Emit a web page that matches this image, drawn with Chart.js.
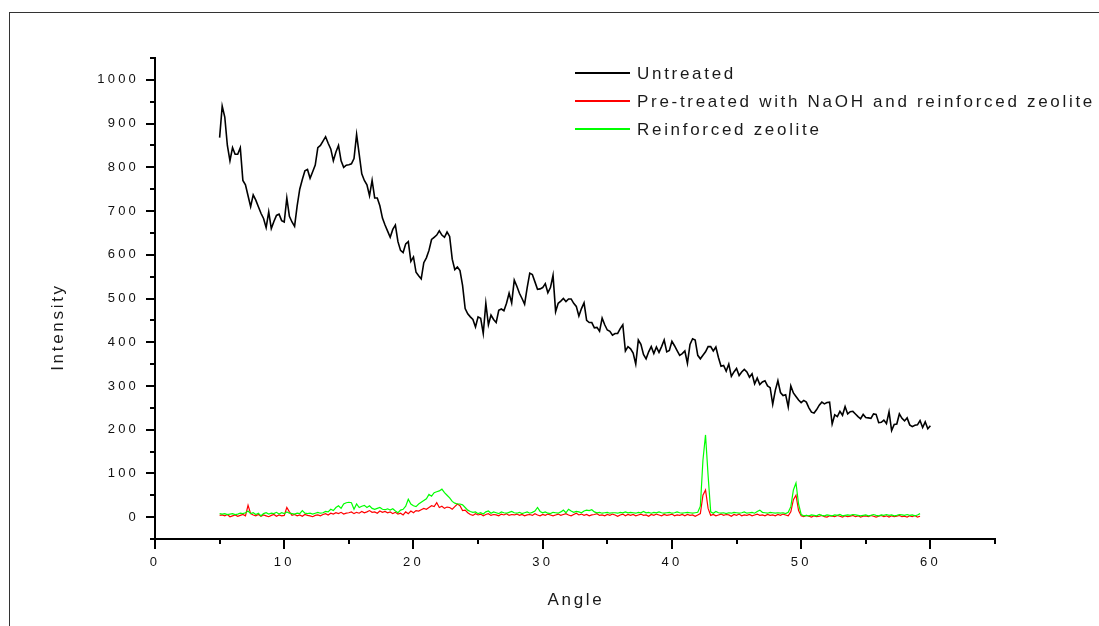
<!DOCTYPE html>
<html>
<head>
<meta charset="utf-8">
<title>Intensity vs Angle</title>
<script src="https://cdn.jsdelivr.net/npm/chart.js@4.4.1/dist/chart.umd.min.js"></script>
<style>
  html, body { margin: 0; padding: 0; background: #fff; }
  canvas { display: block; }
</style>
</head>
<body>
<canvas id="xrdChart" width="1099" height="626"></canvas>
<script>
// scan grid: 5.0, 5.2, 5.4 ... (one row below = one degree)
const ANGLE_START = 5;
const ANGLE_STEP = 0.2;

const untreated = [
  868, 940, 915, 850, 815,   // 5
  845, 830, 830, 845, 770,   // 6
  760, 735, 710, 737, 725,   // 7
  710, 695, 683, 662, 698,   // 8
  660, 676, 690, 693, 678,   // 9
  675, 730, 688, 675, 665,   // 10
  712, 750, 772, 792, 795,   // 11
  775, 790, 805, 845, 850,   // 12
  860, 870, 855, 842, 815,   // 13
  835, 850, 815, 800, 805,   // 14
  806, 808, 820, 875, 830,   // 15
  785, 770, 760, 735, 770,   // 16
  730, 730, 712, 684, 668,   // 17
  654, 640, 658, 668, 630,   // 18
  610, 605, 625, 630, 585,   // 19
  595, 560, 552, 545, 582,   // 20
  593, 610, 635, 640, 645,   // 21
  655, 645, 640, 652, 642,   // 22
  590, 566, 572, 564, 530,   // 23
  477, 465, 458, 452, 435,   // 24
  458, 455, 420, 489, 440,   // 25
  462, 452, 445, 473, 476,   // 26
  472, 489, 512, 490, 542,   // 27
  528, 512, 500, 487, 525,   // 28
  558, 555, 538, 521, 522,   // 29
  525, 534, 513, 525, 553,   // 30
  470, 489, 494, 500, 493,   // 31
  499, 499, 489, 482, 460,   // 32
  477, 490, 450, 445, 445,   // 33
  433, 434, 425, 455, 440,   // 34
  428, 425, 416, 420, 420,   // 35
  431, 440, 380, 390, 385,   // 36
  375, 350, 405, 395, 372,   // 37
  362, 378, 390, 374, 389,   // 38
  377, 390, 405, 378, 381,   // 39
  402, 392, 381, 370, 374,   // 40
  380, 352, 395, 408, 405,   // 41
  370, 362, 370, 378, 390,   // 42
  390, 380, 389, 365, 345,   // 43
  347, 334, 350, 322, 332,   // 44
  340, 324, 332, 338, 332,   // 45
  320, 328, 305, 318, 303,   // 46
  309, 312, 300, 296, 258,   // 47
  290, 312, 285, 278, 280,   // 48
  252, 300, 284, 276, 268,   // 49
  262, 267, 263, 250, 240,   // 50
  238, 246, 256, 263, 259,   // 51
  262, 263, 213, 234, 230,   // 52
  242, 233, 253, 236, 241,   // 53
  242, 236, 230, 225, 235,   // 54
  228, 227, 226, 236, 235,   // 55
  216, 217, 222, 214, 241,   // 56
  198, 212, 213, 236, 226,   // 57
  220, 227, 211, 207, 210,   // 58
  211, 221, 205, 218, 202,   // 59
  209                        // 60
];

const naohZeolite = [
  4, 5, 3, 6, 1,      // 5
  3, 5, 2, 4, 6,      // 6
  3, 27, 8, 5, 3,     // 7
  6, 2, 5, 3, 1,      // 8
  4, 6, 2, 5, 3,      // 9
  4, 22, 12, 4, 6,    // 10
  3, 5, 2, 6, 4,      // 11
  3, 1, 4, 5, 3,      // 12
  6, 8, 5, 9, 7,      // 13
  10, 8, 11, 7, 9,    // 14
  10, 12, 8, 11, 9,   // 15
  13, 10, 12, 15, 11, // 16
  12, 9, 14, 11, 13,  // 17
  10, 12, 8, 11, 7,   // 18
  9, 5, 12, 8, 14,    // 19
  10, 15, 14, 17, 20, // 20
  18, 22, 26, 24, 33, // 21
  22, 25, 20, 23, 22, // 22
  18, 24, 30, 26, 15, // 23
  16, 10, 6, 4, 8,    // 24
  5, 7, 3, 6, 8,      // 25
  4, 6, 5, 3, 7,      // 26
  5, 8, 4, 6, 5,      // 27
  7, 4, 6, 3, 5,      // 28
  6, 4, 8, 5, 3,      // 29
  6, 4, 7, 5, 3,      // 30
  5, 7, 4, 6, 8,      // 31
  5, 3, 6, 9, 5,      // 32
  7, 4, 6, 3, 5,      // 33
  6, 8, 4, 5, 3,      // 34
  6, 4, 7, 5, 2,      // 35
  5, 7, 3, 6, 4,      // 36
  6, 3, 5, 7, 4,      // 37
  5, 2, 6, 4, 7,      // 38
  5, 3, 6, 4, 5,      // 39
  7, 3, 5, 4, 6,      // 40
  3, 6, 4, 5, 2,      // 41
  5, 8, 50, 62, 20,   // 42
  4, 6, 3, 5, 7,      // 43
  4, 6, 5, 2, 6,      // 44
  4, 7, 3, 5, 4,      // 45
  6, 3, 5, 7, 4,      // 46
  5, 3, 6, 4, 5,      // 47
  3, 6, 4, 7, 5,      // 48
  3, 12, 40, 50, 15,  // 49
  3, 1, 4, 2, 0,      // 50
  3, 1, 2, 4, 1,      // 51
  0, 3, 2, 1, 4,      // 52
  2, 0, 3, 1, 2,      // 53
  4, 1, 3, 0, 2,      // 54
  3, 1, 4, 2, 0,      // 55
  2, 4, 1, 3, 0,      // 56
  3, 1, 2, 4, 1,      // 57
  2, 0, 3, 1, 4,      // 58
  0, 2                // 59
];

const zeoliteOnly = [
  8, 7, 8, 6, 7,          // 5
  8, 6, 7, 9, 8,          // 6
  10, 14, 8, 10, 6,       // 7
  9, 3, 8, 10, 7,         // 8
  9, 8, 11, 7, 10,        // 9
  8, 12, 9, 8, 7,         // 10
  9, 8, 15, 9, 8,         // 11
  9, 7, 9, 11, 9,         // 12
  10, 13, 12, 18, 15,     // 13
  22, 26, 20, 30, 33,     // 14
  34, 33, 18, 30, 22,     // 15
  25, 27, 22, 26, 20,     // 16
  18, 20, 22, 18, 17,     // 17
  19, 16, 19, 14, 10,     // 18
  16, 18, 25, 41, 30,     // 19
  26, 24, 30, 34, 38,     // 20
  42, 52, 48, 56, 58,     // 21
  60, 64, 56, 50, 44,     // 22
  36, 32, 30, 30, 28,     // 23
  22, 16, 13, 11, 12,     // 24
  8, 10, 7, 12, 14,       // 25
  9, 12, 10, 8, 12,       // 26
  10, 9, 11, 13, 10,      // 27
  9, 11, 8, 10, 12,       // 28
  9, 11, 14, 22, 13,      // 29
  10, 12, 9, 8, 11,       // 30
  10, 9, 12, 16, 10,      // 31
  18, 14, 11, 13, 12,     // 32
  10, 14, 16, 15, 17,     // 33
  12, 10, 11, 9, 10,      // 34
  11, 9, 10, 10, 9,       // 35
  11, 10, 12, 10, 11,     // 36
  10, 9, 11, 10, 13,      // 37
  10, 11, 9, 11, 10,      // 38
  12, 10, 9, 10, 11,      // 39
  9, 10, 12, 10, 9,       // 40
  10, 11, 10, 9, 10,      // 41
  11, 25, 130, 188, 95,   // 42
  12, 9, 13, 10, 9,       // 43
  10, 8, 10, 9, 11,       // 44
  10, 9, 10, 12, 9,       // 45
  10, 11, 9, 13, 16,      // 46
  11, 10, 9, 11, 10,      // 47
  9, 10, 9, 10, 8,        // 48
  11, 24, 62, 78, 30,     // 49
  6, 3, 4, 3, 5,          // 50
  4, 3, 6, 4, 3,          // 51
  5, 4, 3, 5, 4,          // 52
  6, 3, 4, 5, 4,          // 53
  6, 5, 4, 3, 4,          // 54
  5, 3, 4, 6, 4,          // 55
  3, 5, 4, 6, 4,          // 56
  5, 3, 4, 6, 5,          // 57
  4, 6, 4, 5, 3,          // 58
  5, 8                    // 59
];

const xTicks = [0, 10, 20, 30, 40, 50, 60];
const xMinorTicks = [5, 15, 25, 35, 45, 55, 65];
const yTicks = [0, 100, 200, 300, 400, 500, 600, 700, 800, 900, 1000];
const yMinorTicks = [-50, 50, 150, 250, 350, 450, 550, 650, 750, 850, 950, 1050];

const seriesLabels = ["Untreated", "Pre-treated with NaOH and reinforced zeolite", "Reinforced zeolite"];
const seriesColors = ["#000000", "#ff0000", "#00ff00"];

const FONT = '"Liberation Sans", Arial, sans-serif';

function toPoints(values) {
  return values.map((v, i) => ({ x: Math.round((ANGLE_START + i * ANGLE_STEP) * 10) / 10, y: v }));
}

// frame, minor ticks, axis titles and the legend box
const extrasPlugin = {
  id: "extras",
  beforeDraw(chart) {
    const ctx = chart.ctx;
    ctx.letterSpacing = "3.2px"; // spaced-out tick labels
    ctx.save();
    ctx.strokeStyle = "#333";
    ctx.lineWidth = 1;
    ctx.strokeRect(9.5, 12.5, 1200, 700);
    ctx.restore();
  },
  afterDraw(chart) {
    const { ctx, scales: { x, y } } = chart;
    ctx.save();

    ctx.strokeStyle = "#000";
    ctx.lineWidth = 2;
    ctx.beginPath();
    xMinorTicks.forEach(v => {
      const px = Math.round(x.getPixelForValue(v));
      ctx.moveTo(px, y.bottom);
      ctx.lineTo(px, y.bottom + 5);
    });
    yMinorTicks.forEach(v => {
      const py = Math.round(y.getPixelForValue(v));
      ctx.moveTo(x.left, py);
      ctx.lineTo(x.left - 5, py);
    });
    ctx.stroke();

    ctx.fillStyle = "#1a1a1a";
    ctx.font = "17px " + FONT;
    ctx.letterSpacing = "2.7px";
    ctx.textAlign = "center";
    ctx.textBaseline = "middle";
    ctx.fillText("Angle", 576, 600);
    ctx.save();
    ctx.translate(58, 327);
    ctx.rotate(-Math.PI / 2);
    ctx.fillText("Intensity", 0, 0);
    ctx.restore();

    // legend
    ctx.textAlign = "left";
    const rows = [73, 101, 129];
    seriesLabels.forEach((label, i) => {
      ctx.beginPath();
      ctx.strokeStyle = seriesColors[i];
      ctx.lineWidth = 2;
      ctx.moveTo(575, rows[i]);
      ctx.lineTo(630, rows[i]);
      ctx.stroke();
      ctx.fillText(label, 637, rows[i] + 1);
    });

    ctx.restore();
  }
};

const ctx = document.getElementById("xrdChart").getContext("2d");

new Chart(ctx, {
  type: "line",
  data: {
    datasets: [
      { label: seriesLabels[0], data: toPoints(untreated), borderColor: seriesColors[0], borderWidth: 1.6, order: 0 },
      { label: seriesLabels[1], data: toPoints(naohZeolite), borderColor: seriesColors[1], borderWidth: 1.2, order: 2 },
      { label: seriesLabels[2], data: toPoints(zeoliteOnly), borderColor: seriesColors[2], borderWidth: 1.2, order: 1 }
    ]
  },
  options: {
    responsive: false,
    animation: false,
    devicePixelRatio: 1,
    layout: { padding: { top: 58, right: 104, left: 0, bottom: 0 } },
    elements: { point: { radius: 0 }, line: { tension: 0, fill: false } },
    plugins: { legend: { display: false }, tooltip: { enabled: false } },
    scales: {
      x: {
        type: "linear",
        min: 0,
        max: 65,
        afterFit: s => { s.height = 87; },
        afterBuildTicks: s => { s.ticks = xTicks.map(v => ({ value: v })); },
        grid: { drawOnChartArea: false, drawTicks: true, tickLength: 10, color: "#000", lineWidth: 2 },
        border: { display: true, color: "#000", width: 2 },
        ticks: { color: "#111", font: { size: 13, family: FONT }, padding: 6, maxRotation: 0, autoSkip: false, callback: v => String(v) }
      },
      y: {
        type: "linear",
        min: -50,
        max: 1050,
        afterFit: s => { s.width = 155; },
        afterBuildTicks: s => { s.ticks = yTicks.map(v => ({ value: v })); },
        grid: { drawOnChartArea: false, drawTicks: true, tickLength: 9, color: "#000", lineWidth: 2 },
        border: { display: true, color: "#000", width: 2 },
        ticks: { color: "#111", font: { size: 13, family: FONT }, padding: 7, autoSkip: false, callback: v => String(v) }
      }
    }
  },
  plugins: [extrasPlugin]
});
</script>
</body>
</html>
